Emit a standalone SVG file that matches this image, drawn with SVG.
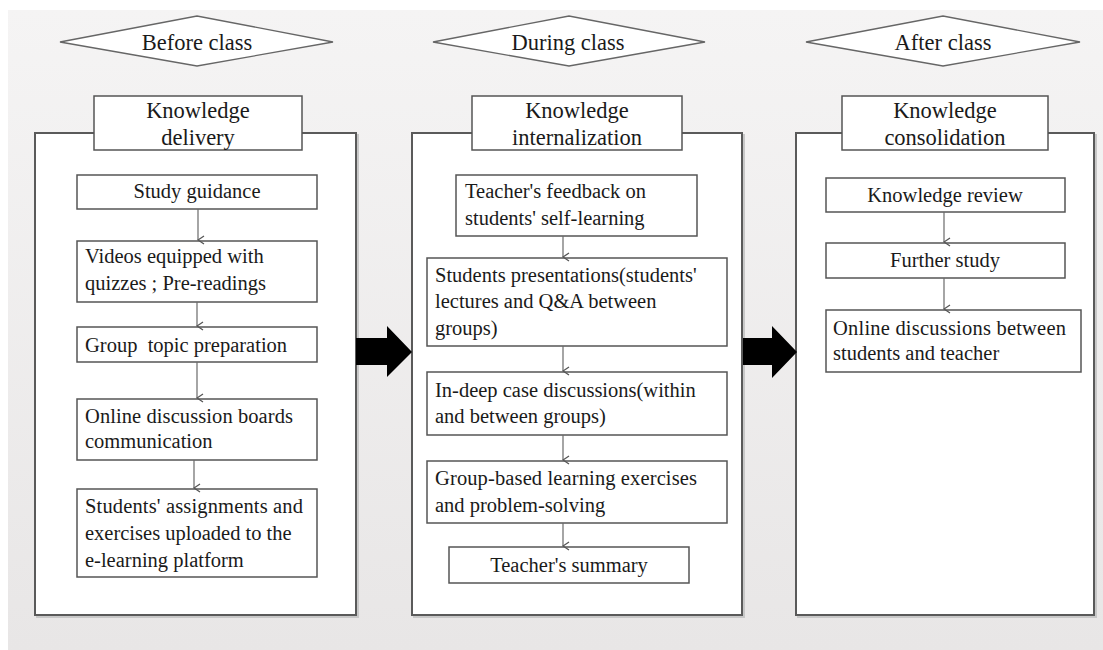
<svg xmlns="http://www.w3.org/2000/svg" width="1103" height="650" viewBox="0 0 1103 650">
  <defs>
    <linearGradient id="bg" x1="0" y1="0" x2="0" y2="1">
      <stop offset="0" stop-color="#f5f4f4"/>
      <stop offset="1" stop-color="#e8e6e6"/>
    </linearGradient>
    <marker id="ah" markerWidth="12" markerHeight="12" refX="6" refY="11" orient="auto" markerUnits="userSpaceOnUse" viewBox="0 0 12 12">
      <polyline points="2,5 6,11 10,5" fill="none" stroke="#555" stroke-width="1.3"/>
    </marker>
    <style>
      text { font-family: 'Liberation Serif', 'DejaVu Serif', serif; fill: #1a1a1a; }
      .body { font-size: 20.5px; }
      .title { font-size: 22.5px; text-anchor: middle; }
      .c { text-anchor: middle; }
      .outer { fill: #ffffff; stroke: #5a5a5a; stroke-width: 2; }
      .shadow { fill: none; stroke: #c8c8c8; stroke-width: 2; }
      .box { fill: #ffffff; stroke: #555555; stroke-width: 1.5; }
      .dia { fill: #ffffff; stroke: #666666; stroke-width: 1.3; }
      .conn { stroke: #6a6a6a; stroke-width: 1.2; fill: none; }
      .big { fill: #000000; }
    </style>
  </defs>

  <rect x="0" y="0" width="1103" height="650" fill="#ffffff"/>
  <rect x="8" y="10" width="1095" height="640" fill="url(#bg)"/>

  <!-- Column 1 -->
  <g id="phase-before">
    <polygon class="dia" points="60,42 197,16 333,42 197,66"/>
    <text class="title" x="197" y="50" font-family="Liberation Serif">Before class</text>
  </g>
  <g id="outer-delivery">
    <rect class="shadow" x="37" y="135" width="321" height="482"/>
    <rect class="outer" x="35" y="133" width="321" height="482"/>
  </g>
  <g id="title-delivery" font-family="Liberation Serif">
    <rect class="box" x="94" y="96" width="208" height="54"/>
    <text class="title" x="198" y="118">Knowledge</text>
    <text class="title" x="198" y="145">delivery</text>
  </g>
  <g id="n-study-guidance">
    <rect class="box" x="77" y="175" width="240" height="34"/>
    <text class="body c" x="197" y="198">Study guidance</text>
  </g>
  <g id="n-videos">
    <rect class="box" x="77" y="241" width="240" height="61"/>
    <text class="body" x="85" y="263">Videos equipped with</text>
    <text class="body" x="85" y="290">quizzes ; Pre-readings</text>
  </g>
  <g id="n-group-topic">
    <rect class="box" x="77" y="327" width="240" height="35"/>
    <text class="body" x="85" y="352" style="white-space:pre">Group  topic preparation</text>
  </g>
  <g id="n-online-boards">
    <rect class="box" x="77" y="399" width="240" height="61"/>
    <text class="body" x="85" y="423" textLength="208" lengthAdjust="spacing">Online discussion boards</text>
    <text class="body" x="85" y="448">communication</text>
  </g>
  <g id="n-assignments">
    <rect class="box" x="77" y="489" width="240" height="88"/>
    <text class="body" x="85" y="513" textLength="218" lengthAdjust="spacing">Students' assignments and</text>
    <text class="body" x="85" y="540">exercises uploaded to the</text>
    <text class="body" x="85" y="567">e-learning platform</text>
  </g>

  <!-- Column 2 -->
  <g id="phase-during">
    <polygon class="dia" points="433,42 569,16 705,42 569,66"/>
    <text class="title" x="568" y="50">During class</text>
  </g>
  <g id="outer-internalization">
    <rect class="shadow" x="414" y="135" width="330" height="482"/>
    <rect class="outer" x="412" y="133" width="330" height="482"/>
  </g>
  <g id="title-internalization">
    <rect class="box" x="472" y="96" width="210" height="54"/>
    <text class="title" x="577" y="118">Knowledge</text>
    <text class="title" x="577" y="145">internalization</text>
  </g>
  <g id="n-feedback">
    <rect class="box" x="456" y="175" width="241" height="61"/>
    <text class="body" x="465" y="198">Teacher's feedback on</text>
    <text class="body" x="465" y="225">students' self-learning</text>
  </g>
  <g id="n-presentations">
    <rect class="box" x="427" y="258" width="300" height="88"/>
    <text class="body" x="435" y="282">Students presentations(students'</text>
    <text class="body" x="435" y="308">lectures and Q&amp;A between</text>
    <text class="body" x="435" y="335">groups)</text>
  </g>
  <g id="n-case">
    <rect class="box" x="427" y="372" width="300" height="63"/>
    <text class="body" x="435" y="397">In-deep case discussions(within</text>
    <text class="body" x="435" y="423">and between groups)</text>
  </g>
  <g id="n-exercises">
    <rect class="box" x="427" y="461" width="300" height="62"/>
    <text class="body" x="435" y="485" textLength="262" lengthAdjust="spacing">Group-based learning exercises</text>
    <text class="body" x="435" y="512">and problem-solving</text>
  </g>
  <g id="n-summary">
    <rect class="box" x="449" y="547" width="240" height="36"/>
    <text class="body c" x="569" y="572">Teacher's summary</text>
  </g>

  <!-- Column 3 -->
  <g id="phase-after">
    <polygon class="dia" points="806,42 943,16 1080,42 943,66"/>
    <text class="title" x="943" y="50">After class</text>
  </g>
  <g id="outer-consolidation">
    <rect class="shadow" x="798" y="135" width="298" height="482"/>
    <rect class="outer" x="796" y="133" width="298" height="482"/>
  </g>
  <g id="title-consolidation">
    <rect class="box" x="842" y="96" width="206" height="54"/>
    <text class="title" x="945" y="118">Knowledge</text>
    <text class="title" x="945" y="145">consolidation</text>
  </g>
  <g id="n-review">
    <rect class="box" x="826" y="178" width="239" height="34"/>
    <text class="body c" x="945" y="202">Knowledge review</text>
  </g>
  <g id="n-further">
    <rect class="box" x="826" y="243" width="239" height="35"/>
    <text class="body c" x="945" y="267">Further study</text>
  </g>
  <g id="n-online-discussions">
    <rect class="box" x="826" y="310" width="255" height="62"/>
    <text class="body" x="833" y="335" textLength="233" lengthAdjust="spacing">Online discussions between</text>
    <text class="body" x="833" y="360">students and teacher</text>
  </g>

  <!-- Connectors -->
  <g id="connectors">
    <line class="conn" x1="198" y1="209" x2="198" y2="240" marker-end="url(#ah)"/>
    <line class="conn" x1="197" y1="302" x2="197" y2="326" marker-end="url(#ah)"/>
    <line class="conn" x1="197" y1="362" x2="197" y2="398" marker-end="url(#ah)"/>
    <line class="conn" x1="194" y1="460" x2="194" y2="488" marker-end="url(#ah)"/>

    <line class="conn" x1="563" y1="236" x2="563" y2="257" marker-end="url(#ah)"/>
    <line class="conn" x1="563" y1="346" x2="563" y2="371" marker-end="url(#ah)"/>
    <line class="conn" x1="563" y1="435" x2="563" y2="460" marker-end="url(#ah)"/>
    <line class="conn" x1="563" y1="523" x2="563" y2="546" marker-end="url(#ah)"/>

    <line class="conn" x1="944" y1="212" x2="944" y2="242" marker-end="url(#ah)"/>
    <line class="conn" x1="944" y1="278" x2="944" y2="309" marker-end="url(#ah)"/>

    <polygon class="big" points="356,338 387,338 387,326 412,352 387,377 387,365 356,365"/>
    <polygon class="big" points="743,338 772,338 772,326 797,352 772,378 772,365 743,365"/>
  </g>
</svg>
